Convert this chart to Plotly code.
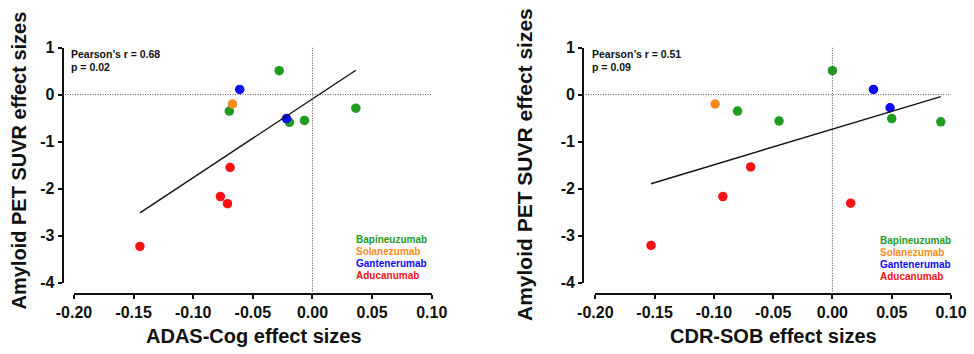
import numpy as np
import plotly.graph_objects as go

W, H = 974, 354

drugs = ["Bapineuzumab", "Solanezumab", "Gantenerumab", "Aducanumab"]
colors = ["#1f9b1f", "#ff8c1a", "#0a0aff", "#ff1010"]

# Left panel: ADAS-Cog effect sizes vs amyloid PET SUVR effect sizes
adas_x = {
    "Bapineuzumab": [-0.0279, -0.0697, -0.0193, -0.0067, 0.0364],
    "Solanezumab": [-0.0671],
    "Gantenerumab": [-0.0610, -0.0218],
    "Aducanumab": [-0.0691, -0.0772, -0.0713, -0.1447],
}
adas_y = {
    "Bapineuzumab": [0.51, -0.35, -0.59, -0.55, -0.29],
    "Solanezumab": [-0.20],
    "Gantenerumab": [0.11, -0.51],
    "Aducanumab": [-1.55, -2.17, -2.32, -3.23],
}

# Right panel: CDR-SOB effect sizes vs amyloid PET SUVR effect sizes
cdr_x = {
    "Bapineuzumab": [0.0, -0.080, -0.045, 0.050, 0.0914],
    "Solanezumab": [-0.0989],
    "Gantenerumab": [0.0346, 0.0486],
    "Aducanumab": [-0.069, -0.0924, 0.0154, -0.153],
}
cdr_y = {
    "Bapineuzumab": [0.51, -0.35, -0.56, -0.51, -0.58],
    "Solanezumab": [-0.20],
    "Gantenerumab": [0.11, -0.28],
    "Aducanumab": [-1.54, -2.17, -2.31, -3.21],
}

x_tickvals = [-0.20, -0.15, -0.10, -0.05, 0.00, 0.05, 0.10]
x_ticktext = ["-0.20", "-0.15", "-0.10", "-0.05", "0.00", "0.05", "0.10"]
y_tickvals = [-4, -3, -2, -1, 0, 1]
y_ticktext = ["-4", "-3", "-2", "-1", "0", "1"]

stats_text = [["Pearson\u2019s r = 0.68", "p = 0.02"], ["Pearson\u2019s r = 0.51", "p = 0.09"]]
x_titles = ["ADAS-Cog effect sizes", "CDR-SOB effect sizes"]
y_title = "Amyloid PET SUVR effect sizes"

FONT = "Liberation Sans, Arial, sans-serif"

# pixel layout helpers
def px(x):
    return x / W

def py(y):
    return 1 - y / H

panels = [
    dict(xd=(74, 431.7), yax_px=62.5, xs=adas_x, ys=adas_y, leg=(354, 239), stat=69,
         xtitle_c=253.5, ytitle_c=18.5, ytitle_y=161, ytitle_size=20),
    dict(xd=(595.3, 951), yax_px=583, xs=cdr_x, ys=cdr_y, leg=(877.5, 240.5), stat=590,
         xtitle_c=773, ytitle_c=524, ytitle_y=165, ytitle_size=21),
]
y_top, y_bot, xaxis_line_px = 47.6, 282.6, 293.8

fig = go.Figure()
annotations = []
shapes = []

for i, p in enumerate(panels):
    sfx = "" if i == 0 else str(i + 1)
    xa, ya = "x" + sfx, "y" + sfx
    allx, ally = [], []
    for d, c in zip(drugs, colors):
        fig.add_trace(go.Scatter(
            x=p["xs"][d], y=p["ys"][d], mode="markers", name=d, showlegend=False,
            marker=dict(color=c, size=9.5, line=dict(width=0)),
            xaxis=xa, yaxis=ya, cliponaxis=False))
        allx += p["xs"][d]
        ally += p["ys"][d]
    allx = np.array(allx)
    ally = np.array(ally)
    slope, icpt = np.polyfit(allx, ally, 1)
    fx = np.array([allx.min(), allx.max()])
    fig.add_trace(go.Scatter(x=fx, y=slope * fx + icpt, mode="lines",
                             line=dict(color="#111111", width=1.4), showlegend=False,
                             xaxis=xa, yaxis=ya, hoverinfo="skip"))

    layout_x = dict(domain=[px(p["xd"][0]), px(p["xd"][1])], range=[-0.2, 0.1],
                    anchor="free", position=py(xaxis_line_px), automargin=False,
                    showline=True, linecolor="#111", linewidth=1.6,
                    ticks="outside", ticklen=4, tickwidth=1.6, tickcolor="#111",
                    tickvals=x_tickvals, ticktext=x_ticktext, showgrid=False, zeroline=False,
                    tickfont=dict(family=FONT, size=16, color="#111", weight="bold"))
    layout_y = dict(domain=[py(y_bot), py(y_top)], range=[-4, 1],
                    anchor="free", position=px(p["yax_px"]), automargin=False,
                    showline=True, linecolor="#111", linewidth=1.6,
                    ticks="outside", ticklen=4, tickwidth=1.6, tickcolor="#111",
                    tickvals=y_tickvals, ticktext=y_ticktext, showgrid=False, zeroline=False,
                    tickfont=dict(family=FONT, size=16, color="#111", weight="bold"))
    fig.update_layout(**{"xaxis" + sfx: layout_x, "yaxis" + sfx: layout_y})

    # dotted reference lines
    shapes.append(dict(type="line", xref="paper", yref=ya, x0=px(p["yax_px"]), x1=px(p["xd"][1]),
                       y0=0, y1=0, line=dict(color="#555", width=1, dash="1px,1.5px")))
    shapes.append(dict(type="line", xref=xa, yref="paper", x0=0, x1=0,
                       y0=py(xaxis_line_px), y1=py(y_top),
                       line=dict(color="#555", width=1, dash="1px,1.5px")))

    # stats text
    for j, t in enumerate(stats_text[i]):
        annotations.append(dict(text=t, xref="paper", yref="paper", x=px(p["stat"]),
                                y=py(53.7 + 13 * j), xanchor="left", yanchor="middle",
                                showarrow=False,
                                font=dict(family=FONT, size=10.5, color="#111", weight="bold")))
    # legend
    for j, (d, c) in enumerate(zip(drugs, colors)):
        annotations.append(dict(text=d, xref="paper", yref="paper", x=px(p["leg"][0]),
                                y=py(p["leg"][1] + 12 * j), xanchor="left", yanchor="middle",
                                showarrow=False,
                                font=dict(family=FONT, size=10, color=c, weight="bold")))
    # axis titles
    annotations.append(dict(text=x_titles[i], xref="paper", yref="paper", x=px(p["xtitle_c"]),
                            y=py(336), xanchor="center", yanchor="middle", showarrow=False,
                            font=dict(family=FONT, size=20, color="#111", weight="bold")))
    annotations.append(dict(text=y_title, xref="paper", yref="paper", x=px(p["ytitle_c"]),
                            y=py(p["ytitle_y"]), xanchor="center", yanchor="middle",
                            showarrow=False, textangle=-90,
                            font=dict(family=FONT, size=p["ytitle_size"], color="#111",
                                      weight="bold")))

fig.update_layout(width=W, height=H, margin=dict(l=0, r=0, t=0, b=0, pad=0, autoexpand=False),
                  paper_bgcolor="white", plot_bgcolor="white",
                  annotations=annotations, shapes=shapes, showlegend=False)
fig.write_html("out.html", config={"displayModeBar": False},
               post_script="document.body.style.margin='0px';document.body.style.overflow='hidden';")
